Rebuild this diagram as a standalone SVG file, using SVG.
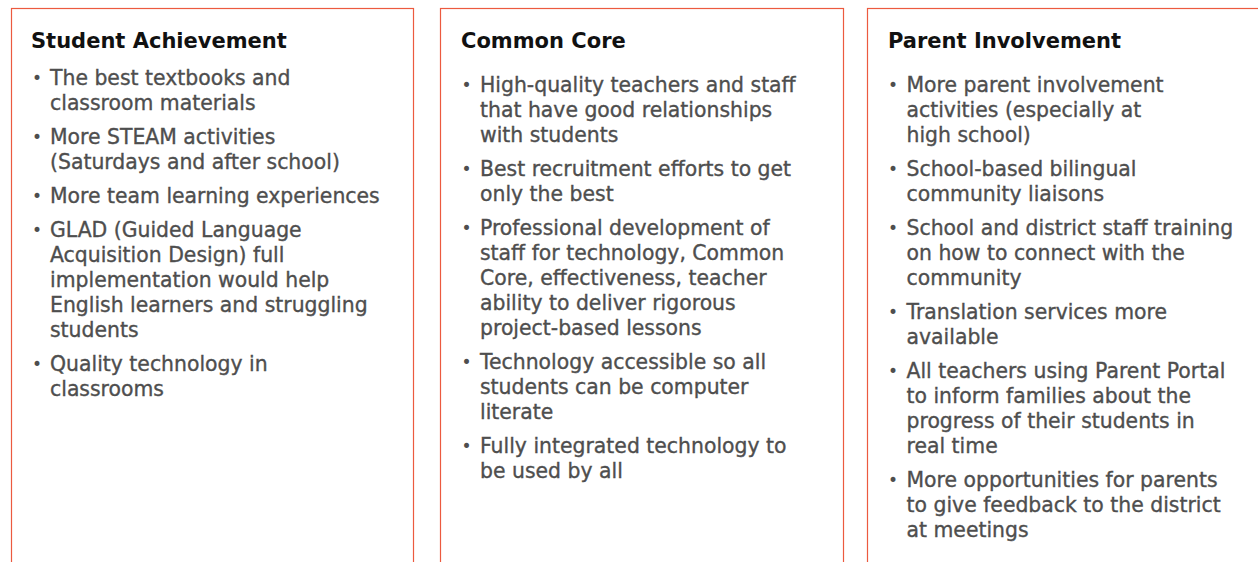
<svg xmlns="http://www.w3.org/2000/svg" width="1258" height="562" viewBox="0 0 1258 562">
<style>
.box{fill:#ffffff;stroke:#ec5a3f;stroke-width:1.2}
.h{font-family:"DejaVu Sans",sans-serif;font-weight:bold;font-size:21px;fill:#111111}
.t{font-family:"DejaVu Sans",sans-serif;font-size:20.4px;fill:#4e4e4e;stroke:#4e4e4e;stroke-width:0.35}
.b{font-family:"DejaVu Sans",sans-serif;font-size:17px;fill:#4e4e4e;text-anchor:middle}
</style>
<rect width="1258" height="562" fill="#ffffff"/>
<g id="connectors"/>
<g id="student-achievement">
<rect class="box" x="11.5" y="8.5" width="402" height="600"/>
<text class="h" x="31" y="48">Student Achievement</text>
<text class="b" x="37" y="84">•</text>
<text class="t" x="50" y="85">The best textbooks and</text>
<text class="t" x="50" y="110">classroom materials</text>
<text class="b" x="37" y="143">•</text>
<text class="t" x="50" y="144">More STEAM activities</text>
<text class="t" x="50" y="169">(Saturdays and after school)</text>
<text class="b" x="37" y="202">•</text>
<text class="t" x="50" y="203">More team learning experiences</text>
<text class="b" x="37" y="236">•</text>
<text class="t" x="50" y="237">GLAD (Guided Language</text>
<text class="t" x="50" y="262">Acquisition Design) full</text>
<text class="t" x="50" y="287">implementation would help</text>
<text class="t" x="50" y="312">English learners and struggling</text>
<text class="t" x="50" y="337">students</text>
<text class="b" x="37" y="370">•</text>
<text class="t" x="50" y="371">Quality technology in</text>
<text class="t" x="50" y="396">classrooms</text>
</g>
<g id="common-core">
<rect class="box" x="440.5" y="8.5" width="403" height="600"/>
<text class="h" x="461" y="48">Common Core</text>
<text class="b" x="466.5" y="91">•</text>
<text class="t" x="480" y="92">High-quality teachers and staff</text>
<text class="t" x="480" y="117">that have good relationships</text>
<text class="t" x="480" y="142">with students</text>
<text class="b" x="466.5" y="175">•</text>
<text class="t" x="480" y="176">Best recruitment efforts to get</text>
<text class="t" x="480" y="201">only the best</text>
<text class="b" x="466.5" y="234">•</text>
<text class="t" x="480" y="235">Professional development of</text>
<text class="t" x="480" y="260">staff for technology, Common</text>
<text class="t" x="480" y="285">Core, effectiveness, teacher</text>
<text class="t" x="480" y="310">ability to deliver rigorous</text>
<text class="t" x="480" y="335">project-based lessons</text>
<text class="b" x="466.5" y="368">•</text>
<text class="t" x="480" y="369">Technology accessible so all</text>
<text class="t" x="480" y="394">students can be computer</text>
<text class="t" x="480" y="419">literate</text>
<text class="b" x="466.5" y="452">•</text>
<text class="t" x="480" y="453">Fully integrated technology to</text>
<text class="t" x="480" y="478">be used by all</text>
</g>
<g id="parent-involvement">
<rect class="box" x="867.5" y="8.5" width="430" height="600"/>
<text class="h" x="888" y="48">Parent Involvement</text>
<text class="b" x="893" y="91">•</text>
<text class="t" x="906.5" y="92">More parent involvement</text>
<text class="t" x="906.5" y="117">activities (especially at</text>
<text class="t" x="906.5" y="142">high school)</text>
<text class="b" x="893" y="175">•</text>
<text class="t" x="906.5" y="176">School-based bilingual</text>
<text class="t" x="906.5" y="201">community liaisons</text>
<text class="b" x="893" y="234">•</text>
<text class="t" x="906.5" y="235">School and district staff training</text>
<text class="t" x="906.5" y="260">on how to connect with the</text>
<text class="t" x="906.5" y="285">community</text>
<text class="b" x="893" y="318">•</text>
<text class="t" x="906.5" y="319">Translation services more</text>
<text class="t" x="906.5" y="344">available</text>
<text class="b" x="893" y="377">•</text>
<text class="t" x="906.5" y="378">All teachers using Parent Portal</text>
<text class="t" x="906.5" y="403">to inform families about the</text>
<text class="t" x="906.5" y="428">progress of their students in</text>
<text class="t" x="906.5" y="453">real time</text>
<text class="b" x="893" y="486">•</text>
<text class="t" x="906.5" y="487">More opportunities for parents</text>
<text class="t" x="906.5" y="512">to give feedback to the district</text>
<text class="t" x="906.5" y="537">at meetings</text>
</g>
</svg>
